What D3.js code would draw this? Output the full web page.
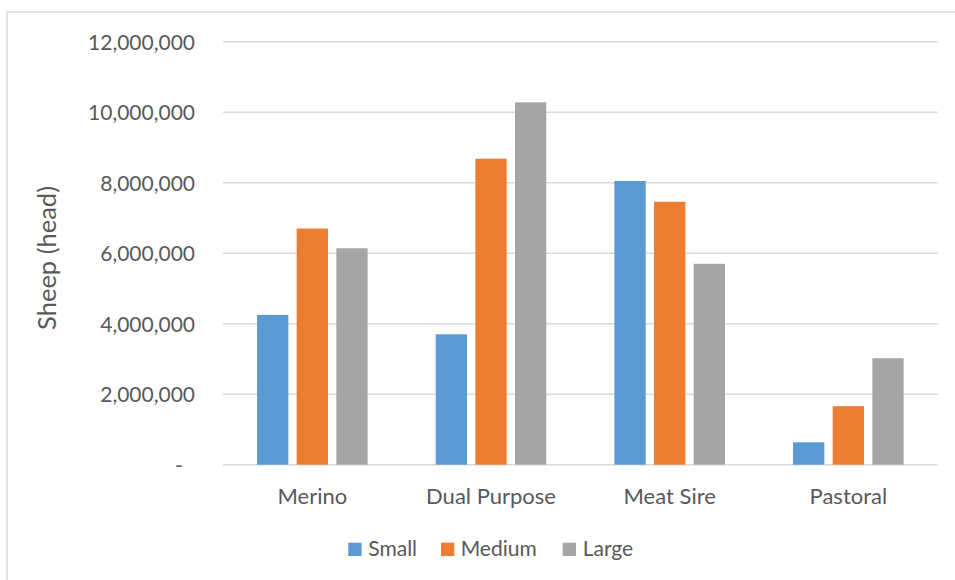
<!DOCTYPE html>
<html>
<head>
<meta charset="utf-8">
<script src="https://cdn.jsdelivr.net/npm/d3@7"></script>
<style>
  html, body { margin: 0; padding: 0; background: #fff; }
  svg { display: block; }
  text { font-family: Lato, "Open Sans", sans-serif; fill: #595959; }
</style>
</head>
<body>
<svg id="chart" width="955" height="580"></svg>
<script>
const categories = ["Merino", "Dual Purpose", "Meat Sire", "Pastoral"];
const seriesNames = ["Small", "Medium", "Large"];
const smallValues  = [4250000, 3700000, 8050000, 635000];
const mediumValues = [6700000, 8680000, 7460000, 1660000];
const largeValues  = [6140000, 10280000, 5700000, 3020000];
const yTicks = [0, 2000000, 4000000, 6000000, 8000000, 10000000, 12000000];
const yTickLabels = ["-", "2,000,000", "4,000,000", "6,000,000", "8,000,000", "10,000,000", "12,000,000"];
const colors = ["#5b9bd5", "#ed7d31", "#a5a5a5"];
const yTitle = "Sheep (head)";

const seriesValues = [smallValues, mediumValues, largeValues];
const svg = d3.select("#chart");

// chart frame (top & left visible)
svg.append("rect")
  .attr("x", 7).attr("y", 12).attr("width", 1000).attr("height", 1000)
  .attr("fill", "none").attr("stroke", "#d9d9d9").attr("stroke-width", 1.5);

const plot = { left: 223, right: 937.7, top: 41.7, bottom: 464.7 };

const x0 = d3.scaleBand().domain(categories).range([plot.left, plot.right]).padding(0);
const groupW = x0.bandwidth() * 0.619;
const x1 = d3.scaleBand().domain(seriesNames).range([0, groupW]).paddingInner(0.21).paddingOuter(0);
const y = d3.scaleLinear().domain([0, 12000000]).range([plot.bottom, plot.top]);

// gridlines
svg.append("g").selectAll("line").data(yTicks).join("line")
  .attr("x1", plot.left).attr("x2", plot.right)
  .attr("y1", d => y(d)).attr("y2", d => y(d))
  .attr("stroke", "#d9d9d9").attr("stroke-width", 1.5);

// y axis labels via d3 axis
const yAxis = d3.axisLeft(y).tickValues(yTicks)
  .tickFormat((d, i) => yTickLabels[i] === "-" ? "-\u2007" : yTickLabels[i])
  .tickSize(0).tickPadding(0);
const yg = svg.append("g").attr("transform", `translate(${plot.left - 28},0)`).call(yAxis);
yg.select(".domain").remove();
yg.selectAll("text").attr("font-size", 21).attr("fill", "#595959")
  .style("font-family", "Lato, sans-serif").attr("dy", "0.35em");

// bars
const groups = svg.append("g").selectAll("g").data(categories).join("g")
  .attr("transform", c => `translate(${x0(c) + (x0.bandwidth() - groupW) / 2},0)`);
groups.selectAll("rect").data((c, ci) => seriesNames.map((s, si) => ({ s, si, v: seriesValues[si][ci] })))
  .join("rect")
  .attr("x", d => x1(d.s))
  .attr("width", x1.bandwidth())
  .attr("y", d => y(d.v))
  .attr("height", d => y(0) - y(d.v))
  .attr("fill", d => colors[d.si]);

// x axis labels
const xAxis = d3.axisBottom(x0).tickSize(0).tickPadding(0);
const xg = svg.append("g").attr("transform", `translate(0,${plot.bottom})`).call(xAxis);
xg.select(".domain").remove();
xg.selectAll("text").attr("font-size", 22).attr("fill", "#595959")
  .style("font-family", "Lato, sans-serif").attr("dy", null).attr("y", 39);

// y axis title
svg.append("text")
  .attr("transform", "translate(56,258) rotate(-90)")
  .attr("text-anchor", "middle")
  .attr("font-size", 25.5)
  .text(yTitle);

// legend
const legendItems = [
  { x: 348.3, tx: 368.3 },
  { x: 441, tx: 460.7 },
  { x: 562.7, tx: 582.7 }
];
const lg = svg.append("g");
seriesNames.forEach((s, i) => {
  lg.append("rect").attr("x", legendItems[i].x).attr("y", 542.7)
    .attr("width", 13.3).attr("height", 13.3).attr("fill", colors[i]);
  lg.append("text").attr("x", legendItems[i].tx).attr("y", 556)
    .attr("font-size", 21).text(s);
});
</script>
</body>
</html>
